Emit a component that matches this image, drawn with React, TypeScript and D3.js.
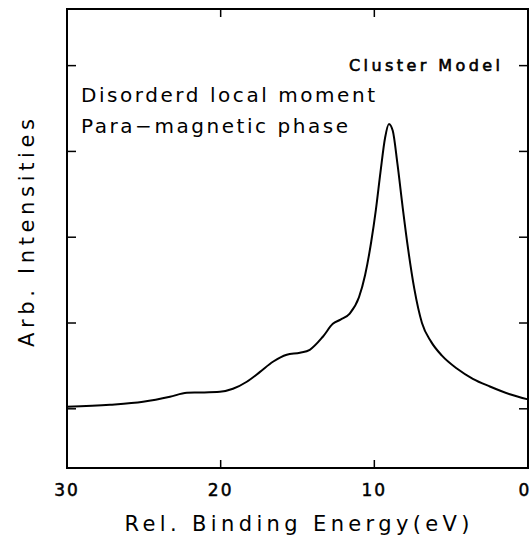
import React, {useEffect, useRef} from 'react'
import * as d3 from 'd3'

const width = 531;
const height = 547;
const frame = {left: 67, right: 528, top: 9, bottom: 468};

// binding energy (eV) and intensity
const energy = [30, 27.2, 25.05, 23.3, 22.2, 21.35, 20.05, 19.2, 18.3, 17.44, 16.6, 15.7, 14.84, 14.2, 13.35,
    12.7, 12.2, 11.6, 11.0, 10.6, 10.2, 9.9, 9.6, 9.3, 9.05, 8.8, 8.5, 8.15, 7.8, 7.4, 6.9, 6.3,
    5.6, 4.63, 3.59, 2.48, 1.18, 0];
const intensity = [0.023, 0.047, 0.082, 0.14, 0.187, 0.19, 0.198, 0.233, 0.315, 0.43, 0.548, 0.63, 0.653, 0.688, 0.84,
    0.99, 1.04, 1.11, 1.3, 1.56, 1.95, 2.32, 2.76, 3.16, 3.32, 3.24, 2.86, 2.34, 1.86, 1.4, 1.0, 0.78,
    0.62, 0.47, 0.35, 0.26, 0.17, 0.11];

const xTicks = [30, 20, 10, 0];
const yTicks = [0, 1, 2, 3, 4];

const font = "'DejaVu Sans', sans-serif";

export default function App() {
    const ref = useRef<SVGSVGElement>(null);

    useEffect(() => {
        const x = d3.scaleLinear().domain([30, 0]).range([frame.left, frame.right]);
        const y = d3.scaleLinear().domain([-0.69, 4.66]).range([frame.bottom, frame.top]);

        const svg = d3.select(ref.current);
        svg.selectAll("*").remove();

        // frame
        svg.append("rect")
            .attr("x", frame.left).attr("y", frame.top)
            .attr("width", frame.right - frame.left).attr("height", frame.bottom - frame.top)
            .attr("fill", "none").attr("stroke", "#000").attr("stroke-width", 2);

        // inward ticks
        const ticks = svg.append("g").attr("stroke", "#000").attr("stroke-width", 1.5);
        xTicks.slice(1, -1).forEach(t => {
            ticks.append("line").attr("x1", x(t)).attr("x2", x(t)).attr("y1", frame.bottom).attr("y2", frame.bottom - 8);
            ticks.append("line").attr("x1", x(t)).attr("x2", x(t)).attr("y1", frame.top).attr("y2", frame.top + 8);
        });
        yTicks.forEach(t => {
            ticks.append("line").attr("x1", frame.left).attr("x2", frame.left + 9).attr("y1", y(t)).attr("y2", y(t));
            ticks.append("line").attr("x1", frame.right).attr("x2", frame.right - 9).attr("y1", y(t)).attr("y2", y(t));
        });

        // tick labels
        svg.append("g")
            .attr("font-family", font).attr("font-size", 17).attr("text-anchor", "middle")
            .attr("stroke", "#000").attr("stroke-width", 0.5)
            .selectAll("text")
            .data(xTicks)
            .join("text")
            .attr("x", d => d === 0 ? x(d) - 3 : x(d))
            .attr("y", 496)
            .attr("letter-spacing", 2)
            .text(d => d);

        const line = d3.line<number>()
            .x((d, i) => x(energy[i]))
            .y(d => y(d))
            .curve(d3.curveMonotoneX);

        svg.append("path")
            .datum(intensity)
            .attr("fill", "none")
            .attr("stroke", "#000")
            .attr("stroke-width", 2)
            .attr("stroke-linejoin", "round")
            .attr("d", line);

        // annotations
        svg.append("text")
            .attr("x", 500).attr("y", 71)
            .attr("text-anchor", "end")
            .attr("font-family", font).attr("font-size", 16)
            .attr("stroke", "#000").attr("stroke-width", 0.6)
            .attr("textLength", 151).attr("lengthAdjust", "spacing")
            .text("Cluster Model");

        svg.append("text")
            .attr("x", 81).attr("y", 102)
            .attr("font-family", font).attr("font-size", 20)
            .attr("textLength", 294).attr("lengthAdjust", "spacing")
            .text("Disorderd local moment");

        svg.append("text")
            .attr("x", 81).attr("y", 133)
            .attr("font-family", font).attr("font-size", 20)
            .attr("textLength", 267).attr("lengthAdjust", "spacing")
            .text("Para\u2212magnetic phase");

        // axis titles
        svg.append("text")
            .attr("x", 297).attr("y", 531)
            .attr("text-anchor", "middle")
            .attr("font-family", font).attr("font-size", 21)
            .attr("textLength", 345).attr("lengthAdjust", "spacing")
            .text("Rel. Binding Energy(eV)");

        svg.append("text")
            .attr("transform", "translate(34,233) rotate(-90)")
            .attr("text-anchor", "middle")
            .attr("font-family", font).attr("font-size", 21)
            .attr("textLength", 228).attr("lengthAdjust", "spacing")
            .text("Arb. Intensities");
    }, []);

    return <svg ref={ref} width={width} height={height}
                style={{position: "absolute", left: 0, top: 0, background: "#fff"}}/>;
}
